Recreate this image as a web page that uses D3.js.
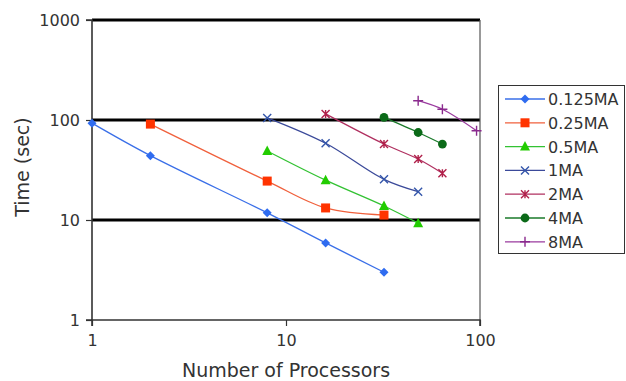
<!DOCTYPE html>
<html>
<head>
<meta charset="utf-8">
<script src="https://cdn.jsdelivr.net/npm/d3@7"></script>
<style>
  html, body { margin: 0; padding: 0; background: #fff; }
  svg { display: block; font-family: "DejaVu Sans", Verdana, sans-serif; }
</style>
</head>
<body>
<svg id="chart" width="626" height="381"></svg>
<script>
const seriesNames = ["0.125MA", "0.25MA", "0.5MA", "1MA", "2MA", "4MA", "8MA"];
const procs0125 = [1, 2, 8, 16, 32];
const time0125 = [93, 44, 11.8, 5.9, 3.0];
const procs025 = [2, 8, 16, 32];
const time025 = [91, 24.5, 13.2, 11.2];
const procs05 = [8, 16, 32, 48];
const time05 = [49, 25, 13.8, 9.3];
const procs1 = [8, 16, 32, 48];
const time1 = [105, 58.5, 25.5, 19.2];
const procs2 = [16, 32, 48, 64];
const time2 = [115, 57.5, 40.7, 29.3];
const procs4 = [32, 48, 64];
const time4 = [106, 75, 57.5];
const procs8 = [48, 64, 96];
const time8 = [156, 128, 78];
const xTicks = [1, 10, 100];
const yTicks = [1, 10, 100, 1000];

const lineColors = ["#3a6fe8", "#f0603c", "#33c233", "#3b4a9a", "#b03060", "#1a7a2a", "#9a3a9e"];
const markColors = ["#2f6cf0", "#ff3300", "#22cc00", "#3355aa", "#b0204a", "#0b6a18", "#8a2a8e"];
const markShapes = ["diamond", "square", "triangle", "x", "star", "circle", "plus"];

const data = [
  [procs0125, time0125], [procs025, time025], [procs05, time05], [procs1, time1],
  [procs2, time2], [procs4, time4], [procs8, time8]
].map((d, i) => ({ name: seriesNames[i], pts: d[0].map((p, j) => ({ x: p, y: d[1][j] })) }));

const svg = d3.select("#chart");
const x = d3.scaleLog().domain([1, 100]).range([92, 480]);
const y = d3.scaleLog().domain([1, 1000]).range([320, 20]);

// gridlines (major)
svg.append("g").selectAll("line").data(yTicks.filter(v => v > 1)).join("line")
  .attr("x1", x(1)).attr("x2", x(100))
  .attr("y1", d => y(d)).attr("y2", d => y(d))
  .attr("stroke", "#000").attr("stroke-width", 2.8);

// right border
svg.append("line").attr("x1", x(100)).attr("x2", x(100)).attr("y1", y(1000)).attr("y2", y(1))
  .attr("stroke", "#555").attr("stroke-width", 1.2);

// axes
const yAxis = svg.append("g").attr("transform", `translate(${x(1)},0)`)
  .call(d3.axisLeft(y).tickValues(yTicks).tickFormat(d3.format("d")).tickSize(6).tickPadding(6));
const xAxis = svg.append("g").attr("transform", `translate(0,${y(1)})`)
  .call(d3.axisBottom(x).tickValues(xTicks).tickFormat(d3.format("d")).tickSize(6).tickPadding(9));
[yAxis, xAxis].forEach(a => {
  a.attr("font-size", 16).attr("font-family", "DejaVu Sans, Verdana, sans-serif");
  a.select(".domain").attr("stroke", "#333").attr("stroke-width", 1.6);
  a.selectAll(".tick line").attr("stroke", "#333").attr("stroke-width", 1.2);
  a.selectAll(".tick text").attr("fill", "#333");
});
xAxis.select(".domain").attr("d", `M${x(1)},6V0H${x(100)}V6`);
yAxis.select(".domain").attr("d", `M-6,${y(1000)}H0V${y(1)}H-6`);

// axis titles
svg.append("text").attr("x", 286).attr("y", 377).attr("text-anchor", "middle")
  .attr("font-size", 19).attr("fill", "#333").text("Number of Processors");
svg.append("text").attr("transform", "translate(29,167) rotate(-90)").attr("text-anchor", "middle")
  .attr("font-size", 19).attr("fill", "#333").text("Time (sec)");

function drawMarker(g, shape, color, cx, cy) {
  const s = 4.5;
  if (shape === "diamond") {
    g.append("path").attr("d", `M${cx},${cy - s}L${cx + s},${cy}L${cx},${cy + s}L${cx - s},${cy}Z`).attr("fill", color);
  } else if (shape === "square") {
    g.append("rect").attr("x", cx - 4.5).attr("y", cy - 4.5).attr("width", 9).attr("height", 9).attr("fill", color);
  } else if (shape === "triangle") {
    g.append("path").attr("d", `M${cx},${cy - 5.5}L${cx + 5},${cy + 4}L${cx - 5},${cy + 4}Z`).attr("fill", color);
  } else if (shape === "x") {
    g.append("path").attr("d", `M${cx - 4},${cy - 4}L${cx + 4},${cy + 4}M${cx + 4},${cy - 4}L${cx - 4},${cy + 4}`)
      .attr("stroke", color).attr("stroke-width", 1.4);
  } else if (shape === "star") {
    g.append("path").attr("d", `M${cx - 4},${cy - 4}L${cx + 4},${cy + 4}M${cx + 4},${cy - 4}L${cx - 4},${cy + 4}M${cx},${cy - 4}V${cy + 4}`)
      .attr("stroke", color).attr("stroke-width", 1.4);
  } else if (shape === "circle") {
    g.append("circle").attr("cx", cx).attr("cy", cy).attr("r", 4.4).attr("fill", color);
  } else if (shape === "plus") {
    g.append("path").attr("d", `M${cx - 5},${cy}H${cx + 5}M${cx},${cy - 5}V${cy + 5}`)
      .attr("stroke", color).attr("stroke-width", 1.4);
  }
}

const line = d3.line().x(d => x(d.x)).y(d => y(d.y)).curve(d3.curveCatmullRom.alpha(0.5));
const plot = svg.append("g");
data.forEach((s, i) => {
  plot.append("path").attr("d", line(s.pts)).attr("fill", "none")
    .attr("stroke", lineColors[i]).attr("stroke-width", 1.3);
});
data.forEach((s, i) => {
  const g = plot.append("g");
  s.pts.forEach(p => drawMarker(g, markShapes[i], markColors[i], x(p.x), y(p.y)));
});

// legend
const lg = svg.append("g");
lg.append("rect").attr("x", 498.5).attr("y", 85.5).attr("width", 126).attr("height", 168)
  .attr("fill", "#fff").attr("stroke", "#333").attr("stroke-width", 1);
seriesNames.forEach((n, i) => {
  const ly = 99 + i * 23.8;
  lg.append("line").attr("x1", 505).attr("x2", 545).attr("y1", ly).attr("y2", ly)
    .attr("stroke", lineColors[i]).attr("stroke-width", 1.3);
  drawMarker(lg, markShapes[i], markColors[i], 525, ly);
  lg.append("text").attr("x", 548).attr("y", ly + 6).attr("font-size", 16).attr("fill", "#333").text(n);
});
</script>
</body>
</html>
